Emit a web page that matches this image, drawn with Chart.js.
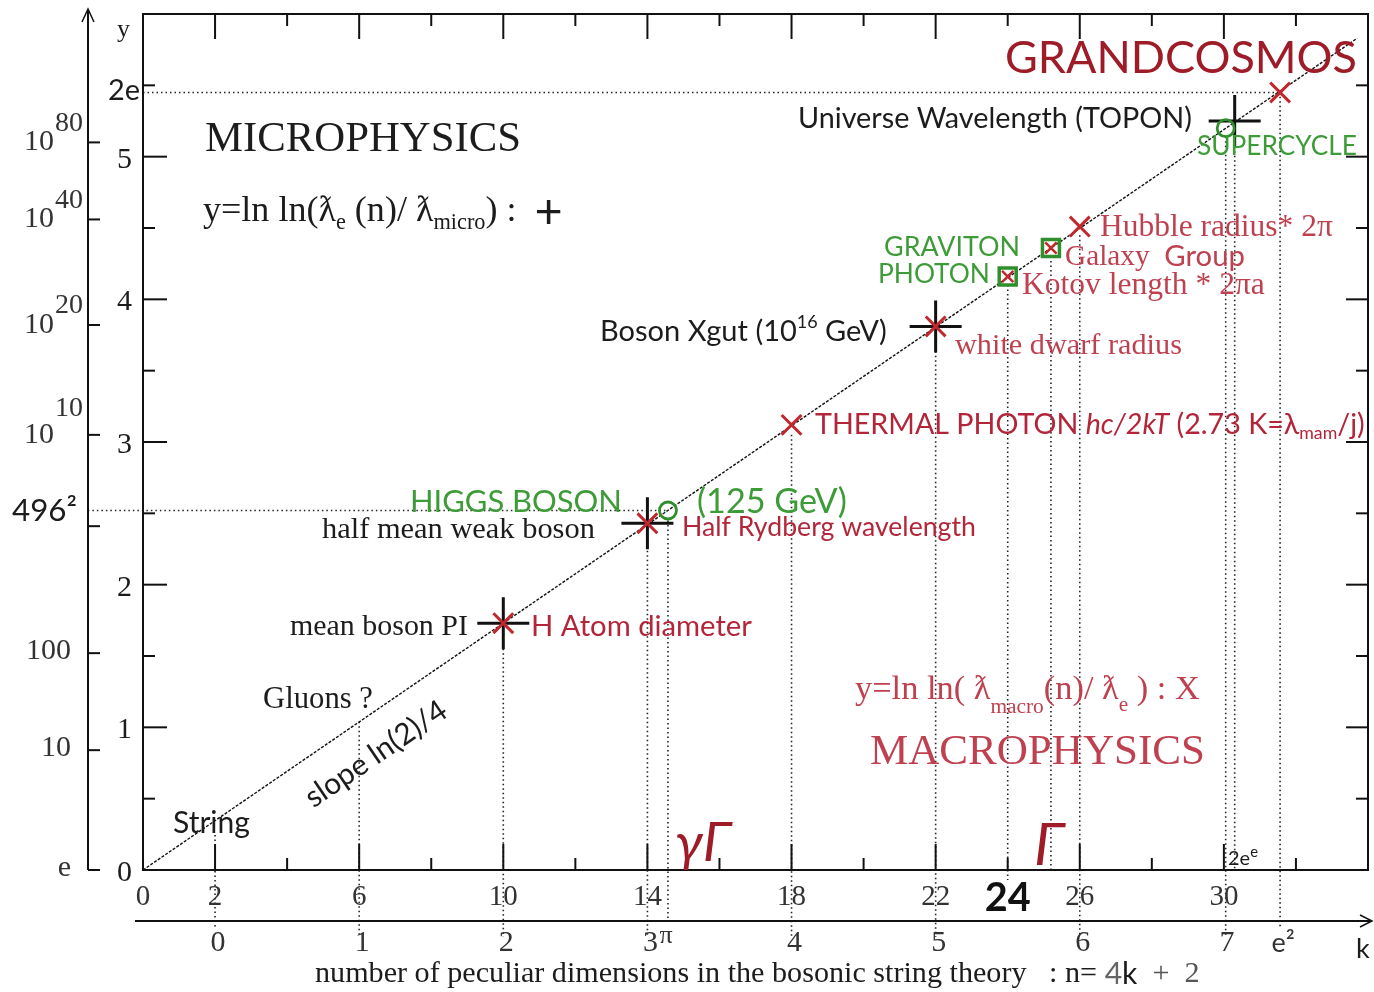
<!DOCTYPE html>
<html>
<head>
<meta charset="utf-8">
<script src="https://cdn.jsdelivr.net/npm/chart.js@4.4.0/dist/chart.umd.min.js"></script>
<style>
  html, body { margin: 0; padding: 0; background: #fff; }
  #wrap { width: 1374px; height: 992px; }
</style>
</head>
<body>
<div id="wrap"><canvas id="chart" width="1374" height="992"></canvas></div>
<script>
// n = number of dimensions, y = ln ln(ratio)
const lineN = [0, 33.7];
const lineY = [0, 5.83];
const microN = [10, 14, 22, 30.3];          // black +
const microY = [1.73, 2.43, 3.81, 5.25];
const macroN = [10, 14, 18, 22, 26, 31.56];  // red x
const macroY = [1.73, 2.43, 3.12, 3.81, 4.51, 5.45];
const bosonN = [24, 25.2];                   // graviton / photon squares
const bosonY = [4.16, 4.36];
const ringN = [14.57, 30.05];                // higgs / supercycle
const ringY = [2.52, 5.2];

// dotted guides
const guideN = [2, 6, 10, 14, 14.57, 18, 22, 24, 25.2, 26, 30.05, 30.3, 31.56];
const guideTop = [0.245, 1.04, 1.55, 2.3, 2.45, 3.05, 3.7, 4.1, 4.3, 4.45, 5.14, 5.07, 5.42];
const guideBottom = [-0.4, -0.47, -0.47, -0.47, -0.36, -0.47, -0.47, -0.07, 0, -0.47, -0.47, 0, -0.4];
const hGuideY = [5.45, 2.52];
const hGuideFrom = [0, -1.53];
const hGuideTo = [31.56, 14.57];

// ticks
const nMajorTicks = [2, 6, 10, 14, 18, 22, 26, 30];
const nMinorTicks = [4, 8, 12, 16, 20, 24, 28, 32];
const yMajorTicks = [1, 2, 3, 4, 5];
const yMinorTicks = [0.5, 1.5, 2.5, 3.5, 4.5, 5.5];
const nTickVals = [0, 2, 6, 10, 14, 18, 22, 24, 26, 30];
const nTickLabels = ['0', '2', '6', '10', '14', '18', '22', '24', '26', '30'];
const kTickVals = [2, 6, 10, 14, 18, 22, 26, 30, 31.56];
const kTickLabels = ['0', '1', '2', '3^π', '4', '5', '6', '7', 'e²'];
const yTickVals = [0, 1, 2, 3, 4, 5];
const yTickLabels = ['0', '1', '2', '3', '4', '5'];
const outerTickVals = [0, 0.84, 1.52, 2.41, 3.05, 3.82, 4.56, 5.10];
const outerTickLabels = ['e', '10', '100', '', '10^10', '10^20', '10^40', '10^80'];

const SERIF = '"Liberation Serif", "DejaVu Serif", serif';
const SANS = 'Lato, "Open Sans", "Liberation Sans", sans-serif';
const INK = '#1c1c1c';
const RED_DARK = '#9e1b28';
const RED = '#b3263a';
const RED_SOFT = '#bf4150';
const GREEN = '#3e9c38';

const notes = [
  { s: 'y', x: 117, y: 30, size: 26, f: SERIF },
  { s: '2e', x: 108, y: 91, size: 26, f: SANS, w: 32 },
  { s: '496²', x: 12, y: 511, size: 28, f: SANS, w: 65 },
  { s: 'MICROPHYSICS', x: 205, y: 140, size: 40, f: SERIF, w: 316 },
  { s: [{ t: 'y=ln ln(' }, { t: 'ƛ' }, { t: 'e', sub: 1 }, { t: ' (n)/ ' }, { t: 'ƛ' }, { t: 'micro', sub: 1 }, { t: ') :  ' }, { t: '+', f: SANS, scale: 1.35 }], x: 203, y: 212, size: 28, f: SERIF, w: 360 },
  { s: 'Universe Wavelength (TOPON)', x: 798, y: 119, size: 27, f: SANS, w: 394 },
  { s: 'GRANDCOSMOS', x: 1005, y: 58, size: 46, f: SANS, w: 352, c: RED_DARK },
  { s: 'SUPERCYCLE', x: 1197, y: 147, size: 24, f: SANS, w: 160, c: GREEN },
  { s: 'Hubble radius* 2π', x: 1100, y: 228, size: 27, f: SERIF, w: 233, c: RED_SOFT },
  { s: 'GRAVITON', x: 884, y: 247, size: 26, f: SANS, w: 136, c: GREEN },
  { s: 'PHOTON', x: 878, y: 275, size: 26, f: SANS, w: 112, c: GREEN },
  { s: [{ t: 'Galaxy  ' }, { t: 'Group', f: SANS }], x: 1065, y: 257, size: 27, f: SERIF, w: 180, c: RED_SOFT },
  { s: 'Kotov length * 2πa', x: 1022, y: 286, size: 27, f: SERIF, w: 243, c: RED_SOFT },
  { s: [{ t: 'Boson Xgut (10' }, { t: '16', sup: 1 }, { t: ' GeV)' }], x: 600, y: 332, size: 26, f: SANS, w: 287 },
  { s: 'white dwarf radius', x: 955, y: 346, size: 27, f: SERIF, w: 227, c: RED_SOFT },
  { s: [{ t: 'THERMAL PHOTON ' }, { t: 'hc/2kT', it: 1 }, { t: ' (2.73 K=λ' }, { t: 'mam', sub: 1 }, { t: '/j)' }], x: 815, y: 425, size: 27, f: SANS, w: 550, c: RED },
  { s: 'HIGGS BOSON', x: 410, y: 502, size: 30, f: SANS, w: 212, c: GREEN },
  { s: '(125 GeV)', x: 697, y: 502, size: 30, f: SANS, w: 150, c: GREEN },
  { s: 'half mean weak boson', x: 322, y: 530, size: 27, f: SERIF, w: 273 },
  { s: 'Half Rydberg wavelength', x: 682, y: 527, size: 26, f: SANS, w: 294, c: RED },
  { s: 'mean boson PI', x: 290, y: 627, size: 27, f: SERIF, w: 178 },
  { s: 'H Atom diameter', x: 531, y: 627, size: 27, f: SANS, w: 221, c: RED },
  { s: 'Gluons ?', x: 263, y: 700, size: 27, f: SERIF, w: 110 },
  { s: 'slope ln(2)/4', x: 376, y: 754, size: 26, f: SANS, w: 165, rot: -0.6, align: 'center' },
  { s: 'String', x: 173, y: 823, size: 26, f: SANS, w: 77 },
  { s: [{ t: 'y=ln ln( ' }, { t: 'ƛ' }, { t: 'macro', sub: 1, dy: 0.5 }, { t: '(n)/ ' }, { t: 'ƛ' }, { t: 'e', sub: 1, dy: 0.45 }, { t: ' ) : X' }], x: 855, y: 690, size: 30, f: SERIF, w: 345, c: RED_SOFT },
  { s: 'MACROPHYSICS', x: 870, y: 753, size: 40, f: SERIF, w: 335, c: RED_SOFT },
  { s: [{ t: 'γΓ', it: 1 }], x: 675, y: 843, size: 48, f: SANS, w: 56, c: RED_DARK },
  { s: [{ t: 'Γ', it: 1 }], x: 1034, y: 846, size: 48, f: SANS, w: 30, c: RED_DARK },
  { s: [{ t: '2e' }, { t: 'e', sup: 1, scale: 1.2 }], x: 1228, y: 859, size: 21, f: SANS, w: 30 },
  { s: 'k', x: 1356, y: 949, size: 27, f: SANS },
  { s: [{ t: 'number of peculiar dimensions in the bosonic string theory   : n= ' }, { t: '4', f: SANS, c: '#666' }, { t: 'k', f: SANS }, { t: '  +  2', c: '#555' }], x: 315, y: 974, size: 28, f: SERIF, w: 885 }
];

function segFont(s, size, fam) {
  const sz = size * (s.sub || s.sup ? 0.62 : 1) * (s.scale || 1);
  return (s.it ? 'italic ' : '') + (s.b ? 'bold ' : '') + sz + 'px ' + (s.f || fam);
}
function richWidth(ctx, segs, size, fam) {
  let w = 0;
  segs.forEach(s => { ctx.font = segFont(s, size, fam); w += ctx.measureText(s.t).width; });
  return w;
}
function drawRich(ctx, segs, x, y, o) {
  let size = o.size;
  if (o.w) size = size * o.w / richWidth(ctx, segs, size, o.f);
  const total = richWidth(ctx, segs, size, o.f);
  let cx = x;
  if (o.align === 'center') cx = x - total / 2;
  else if (o.align === 'right') cx = x - total;
  ctx.textAlign = 'left';
  ctx.textBaseline = 'middle';
  segs.forEach(s => {
    ctx.font = segFont(s, size, o.f);
    ctx.fillStyle = s.c || o.c || INK;
    const dy = s.sub ? size * (s.dy || 0.3) : s.sup ? -size * (s.dy || 0.35) : 0;
    ctx.fillText(s.t, cx, y + dy);
    cx += ctx.measureText(s.t).width;
  });
}
function seg(ctx, x1, y1, x2, y2) {
  ctx.beginPath(); ctx.moveTo(x1, y1); ctx.lineTo(x2, y2); ctx.stroke();
}

const frame = {
  id: 'frame',
  beforeDatasetsDraw(chart) {
    const { ctx, chartArea: a, scales: { x, y } } = chart;
    const px = v => x.getPixelForValue(v), py = v => y.getPixelForValue(v);
    ctx.save();
    ctx.strokeStyle = '#222';
    ctx.lineWidth = 1.6;
    ctx.setLineDash([1.5, 3]);
    guideN.forEach((n, i) => seg(ctx, px(n), py(guideTop[i]), px(n), py(guideBottom[i])));
    hGuideY.forEach((v, i) => seg(ctx, px(hGuideFrom[i]), py(v), px(hGuideTo[i]), py(v)));
    ctx.setLineDash([]);

    ctx.strokeStyle = '#111';
    ctx.lineWidth = 2;
    ctx.strokeRect(a.left, a.top, a.right - a.left, a.bottom - a.top);
    nMajorTicks.forEach(n => {
      seg(ctx, px(n), a.bottom, px(n), a.bottom - 26);
      seg(ctx, px(n), a.top, px(n), a.top + 25);
    });
    nMinorTicks.forEach(n => {
      seg(ctx, px(n), a.bottom, px(n), a.bottom - 12);
      seg(ctx, px(n), a.top, px(n), a.top + 12);
    });
    yMajorTicks.forEach(v => {
      seg(ctx, a.left, py(v), a.left + 24, py(v));
      seg(ctx, a.right, py(v), a.right - 22, py(v));
    });
    yMinorTicks.forEach(v => {
      seg(ctx, a.left, py(v), a.left + 12, py(v));
      seg(ctx, a.right, py(v), a.right - 12, py(v));
    });

    // outer y axis (ln ln of the ratio)
    const ox = 88;
    seg(ctx, ox, py(0), ox, 10);
    ctx.lineWidth = 1.5;
    ctx.beginPath(); ctx.moveTo(ox - 6, 22); ctx.lineTo(ox, 9); ctx.lineTo(ox + 6, 22); ctx.stroke();
    ctx.lineWidth = 2;
    outerTickVals.forEach(v => seg(ctx, ox, py(v), ox + 12, py(v)));

    // k axis
    const ky = 921;
    seg(ctx, 135, ky, 1371, ky);
    ctx.lineWidth = 1.5;
    ctx.beginPath(); ctx.moveTo(1360, ky - 6); ctx.lineTo(1372, ky); ctx.lineTo(1360, ky + 6); ctx.stroke();
    ctx.restore();
  },
  afterDraw(chart) {
    const { ctx, scales: { x, y } } = chart;
    const px = v => x.getPixelForValue(v), py = v => y.getPixelForValue(v);
    ctx.save();
    yTickLabels.forEach((t, i) => drawRich(ctx, [{ t }], 132, py(yTickVals[i]) + 3, { size: 30, f: SERIF, align: 'right' }));
    outerTickLabels.forEach((t, i) => {
      if (!t) return;
      const yy = py(outerTickVals[i]);
      const parts = t.split('^');
      if (parts.length > 1) {
        drawRich(ctx, [{ t: parts[0] }], 54, yy, { size: 30, f: SERIF, align: 'right', c: '#333' });
        drawRich(ctx, [{ t: parts[1] }], 55, yy - (parts[1] === '10' ? 26 : 19), { size: 28, f: SERIF, c: '#333' });
      } else {
        drawRich(ctx, [{ t }], 71, yy - 2, { size: 30, f: SERIF, align: 'right', c: '#333' });
      }
    });
    nTickLabels.forEach((t, i) => {
      if (t === '24') drawRich(ctx, [{ t, b: 1 }], px(nTickVals[i]), 898, { size: 40, f: SANS, w: 46, align: 'center', c: '#111' });
      else drawRich(ctx, [{ t }], px(nTickVals[i]), 897, { size: 29, f: SERIF, align: 'center', c: '#333' });
    });
    kTickLabels.forEach((t, i) => {
      const xx = px(kTickVals[i]);
      const parts = t.split('^');
      if (t === 'e²') {
        drawRich(ctx, [{ t }], xx + 3, 943, { size: 27, f: SANS, align: 'center', c: '#333' });
      } else {
        drawRich(ctx, [{ t: parts[0] }], xx + 3, 943, { size: 30, f: SERIF, align: 'center', c: '#333' });
        if (parts[1]) drawRich(ctx, [{ t: parts[1] }], xx + 12, 936, { size: 26, f: SERIF, c: '#333' });
      }
    });
    notes.forEach(n => {
      const segs = typeof n.s === 'string' ? [{ t: n.s }] : n.s;
      if (n.rot) {
        ctx.save();
        ctx.translate(n.x, n.y);
        ctx.rotate(n.rot);
        drawRich(ctx, segs, 0, 0, n);
        ctx.restore();
      } else {
        drawRich(ctx, segs, n.x, n.y, n);
      }
    });
    ctx.restore();
  }
};

const toPts = (xs, ys) => xs.map((v, i) => ({ x: v, y: ys[i] }));

new Chart(document.getElementById('chart').getContext('2d'), {
  type: 'scatter',
  data: {
    datasets: [
      {
        label: 'slope ln(2)/4',
        data: toPts(lineN, lineY),
        showLine: true,
        borderColor: '#111',
        borderWidth: 1.4,
        borderDash: [3, 1.5],
        pointRadius: 0,
        order: 5
      },
      {
        label: 'micro',
        data: toPts(microN, microY),
        pointStyle: 'cross',
        pointRadius: 26,
        borderColor: '#111',
        pointBorderWidth: 3,
        order: 3
      },
      {
        label: 'rings',
        data: toPts(ringN, ringY),
        pointStyle: 'circle',
        pointRadius: 8.5,
        borderColor: '#2f8f2c',
        backgroundColor: 'rgba(0,0,0,0)',
        pointBorderWidth: 2.8,
        order: 2
      },
      {
        label: 'bosons',
        data: toPts(bosonN, bosonY),
        pointStyle: 'rect',
        pointRadius: 12,
        borderColor: '#2f8f2c',
        backgroundColor: 'rgba(0,0,0,0)',
        pointBorderWidth: 3.5,
        order: 2
      },
      {
        label: 'bosons x',
        data: toPts(bosonN, bosonY),
        pointStyle: 'crossRot',
        pointRadius: 8,
        borderColor: '#c0282e',
        pointBorderWidth: 2.5,
        order: 1
      },
      {
        label: 'macro',
        data: toPts(macroN, macroY),
        pointStyle: 'crossRot',
        pointRadius: 14,
        borderColor: '#c0282e',
        pointBorderWidth: 3,
        order: 0
      }
    ]
  },
  options: {
    responsive: false,
    animation: false,
    layout: { autoPadding: false, padding: { left: 143, top: 14, right: 6, bottom: 122 } },
    scales: {
      x: { type: 'linear', min: 0, max: 34, display: false },
      y: { type: 'linear', min: 0, max: 6, display: false }
    },
    plugins: { legend: { display: false }, tooltip: { enabled: false } }
  },
  plugins: [frame]
});
</script>
</body>
</html>
